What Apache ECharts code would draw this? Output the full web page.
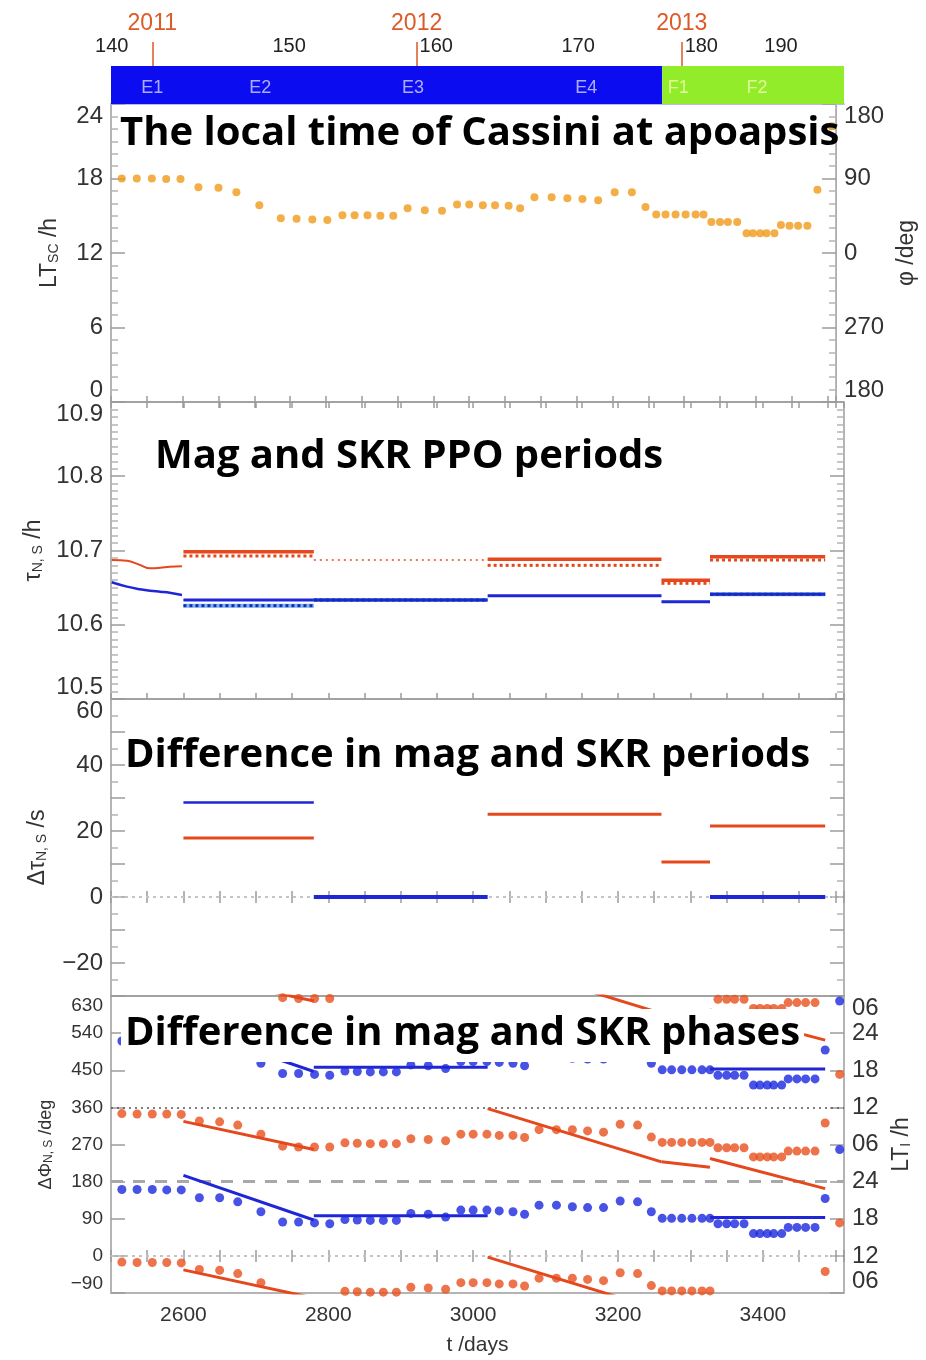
<!DOCTYPE html>
<html>
<head>
<meta charset="utf-8">
<script src="https://cdn.jsdelivr.net/npm/echarts@6/dist/echarts.min.js"></script>
<style>
html, body { margin: 0; padding: 0; background: #fff; }
#chart { width: 926px; height: 1360px; }
</style>
</head>
<body>
<div id="chart"></div>
<script>
// ---- time axis: days since 2004-01-01 ----
const dayRange = [2500, 3512];
const dayTicks = [2600, 2800, 3000, 3200, 3400];

// orbit numbers along the top (start day of each labelled orbit)
const orbitNums = [140, 150, 160, 170, 180, 190];
const orbitDays = [2501, 2746, 2949, 3145, 3315, 3425];

// calendar years
const yearLabels = ['2011', '2012', '2013'];
const yearDays = [2557, 2922, 3288];

// mission phases (bar) and sub-phase labels
const phaseSpans = [[2500, 3261], [3261, 3512]];
const phaseColors = ['#0c0cf0', '#92ec2a'];
const subPhaseNames = ['E1', 'E2', 'E3', 'E4', 'F1', 'F2'];
const subPhaseDays = [2557, 2706, 2917, 3156, 3283, 3392];

// apoapsis passes: day, spacecraft local time (h), phase differences (deg)
const apoDays = [2515, 2536, 2557, 2577, 2597, 2622, 2650, 2675, 2707, 2737,
  2759, 2781, 2802, 2823, 2840, 2858, 2876, 2894, 2914, 2938,
  2962, 2983, 3000, 3019, 3036, 3055, 3071, 3091, 3115, 3137,
  3158, 3180, 3203, 3227, 3246, 3261, 3274, 3288, 3302, 3316,
  3327, 3338, 3350, 3361, 3374, 3387, 3396, 3406, 3415, 3426,
  3435, 3447, 3459, 3472, 3486, 3506];
const apoLT = [18.0, 18.0, 18.0, 17.95, 17.95, 17.3, 17.25, 16.9, 15.85, 14.8,
  14.75, 14.7, 14.65, 15.05, 15.05, 15.05, 15.0, 15.0, 15.6, 15.45,
  15.4, 15.9, 15.9, 15.85, 15.85, 15.8, 15.6, 16.5, 16.5, 16.4,
  16.35, 16.25, 16.9, 16.9, 15.7, 15.1, 15.1, 15.1, 15.1, 15.1,
  15.1, 14.5, 14.5, 14.5, 14.5, 13.6, 13.6, 13.6, 13.6, 13.6,
  14.25, 14.2, 14.2, 14.2, 17.1, 22.2];
const dPhiS = [345, 344, 344, 344, 343, 327, 325, 317, 295, 266,
  264, 264, 264, 274, 273, 272, 272, 272, 284, 282,
  279, 295, 295, 295, 292, 292, 287, 306, 306, 306,
  303, 300, 319, 317, 288, 275, 275, 275, 275, 275,
  275, 262, 262, 262, 262, 240, 240, 240, 240, 240,
  254, 254, 254, 254, 322, 80];
const dPhiN = [161, 161, 161, 160, 160, 141, 141, 131, 107, 82,
  82, 80, 78, 88, 87, 86, 86, 86, 103, 101,
  94, 111, 111, 111, 109, 107, 101, 123, 123, 119,
  117, 117, 133, 131, 107, 91, 91, 91, 91, 91,
  91, 78, 78, 78, 78, 54, 54, 54, 54, 54,
  69, 69, 69, 69, 139, 258];

// constant-period intervals
const segEdges = [2600, 2780, 3020, 3260, 3327, 3486];
const tauMagS = [10.6984, null, 10.6881, 10.6599, 10.6917];
const tauSkrS = [10.6926, 10.6872, 10.6800, 10.6558, 10.6872];
const tauMagN = [10.6333, 10.6333, 10.6391, 10.6310, 10.6410];
const tauSkrN = [10.6257, 10.6333, null, null, 10.6410];

// smoothed periods before the first interval
const earlyDays = [2501, 2522, 2540, 2554, 2568, 2581, 2598];
const earlyTauS = [10.6872, 10.6863, 10.6805, 10.6760, 10.6768, 10.6782, 10.6787];
const earlyTauN = [10.6572, 10.6513, 10.6478, 10.6458, 10.6445, 10.6432, 10.6401];

// period differences (s)
const dTauS = [17.9, null, 25.1, 10.6, 21.5];
const dTauN = [28.6, 0, null, null, 0];

// phase-drift fits (start, end) per interval (deg)
const fitS = [[326, 258], null, [357, 228], [228, 215], [236, 163]];
const fitN = [[195, 87], [97, 97], null, null, [93, 93]];

// ---- styling ----
const C = {
  lt: '#f09a1a',
  red: '#e4481c',
  blue: '#1e26d6',
  year: '#dc5a28',
  axis: '#9c9c9c',
  text: '#333333'
};
const numFont = 'Liberation Sans';
const titleFont = 'Open Sans';

const grids = [
  { left: 111, right: 82, top: 66, height: 38 },
  { left: 111, right: 82, top: 104, height: 298, show: true, borderColor: C.axis, borderWidth: 1.5 },
  { left: 111, right: 82, top: 402, height: 297, show: true, borderColor: C.axis, borderWidth: 1.5 },
  { left: 111, right: 82, top: 699, height: 297, show: true, borderColor: C.axis, borderWidth: 1.5 },
  { left: 111, right: 82, top: 996, height: 297, show: true, borderColor: C.axis, borderWidth: 1.5 }
];

function xAx(grid, pos, extra) {
  return Object.assign({
    type: 'value', gridIndex: grid, position: pos,
    min: dayRange[0], max: dayRange[1], interval: 50,
    axisLine: { show: false }, splitLine: { show: false },
    axisTick: { inside: true, length: 6, lineStyle: { color: C.axis, width: 1.5 } },
    axisLabel: { show: false }
  }, extra || {});
}

function yAx(grid, pos, min, max, interval, minorSplit, extra) {
  return Object.assign({
    type: 'value', gridIndex: grid, position: pos,
    min: min, max: max, interval: interval,
    axisLine: { show: false }, splitLine: { show: false },
    axisTick: { inside: true, length: 14, lineStyle: { color: C.axis, width: 1.5 } },
    minorTick: { show: minorSplit > 0, splitNumber: minorSplit || 5, length: 7, lineStyle: { color: '#b4b4b4', width: 1.5 } },
    axisLabel: { show: false }
  }, extra || {});
}

function yLabel(fmt, size) {
  return {
    show: true, fontFamily: numFont, fontSize: size || 24, color: C.text, margin: 8,
    formatter: fmt, verticalAlignMinLabel: 'bottom', verticalAlignMaxLabel: 'top'
  };
}

const nameRich = {
  m: { fontFamily: numFont, fontSize: 23, color: C.text },
  s: { fontFamily: numFont, fontSize: 14, color: C.text, verticalAlign: 'bottom', padding: [8, 0, 0, 0] },
  ms: { fontFamily: numFont, fontSize: 18, color: C.text },
  ss: { fontFamily: numFont, fontSize: 12, color: C.text, verticalAlign: 'bottom', padding: [6, 0, 0, 0] }
};
function yName(text, gap) {
  return { name: text, nameLocation: 'middle', nameRotate: 90, nameGap: gap, nameTextStyle: { rich: nameRich } };
}

const xAxes = [
  // orbit numbers
  xAx(0, 'top', {
    interval: null,
    axisLine: { show: true, lineStyle: { color: '#b8b8ff', width: 2 } },
    axisTick: { show: true, inside: false, length: 5, customValues: orbitDays, lineStyle: { color: '#555', width: 1 } },
    axisLabel: {
      show: true, customValues: orbitDays, margin: 10, fontFamily: numFont, fontSize: 20, color: '#222',
      formatter: v => String(orbitNums[orbitDays.indexOf(v)])
    }
  }),
  // calendar years
  xAx(0, 'top', {
    interval: null,
    axisTick: { show: true, inside: false, length: 24, customValues: yearDays, lineStyle: { color: C.year, width: 1.5 } },
    axisLabel: {
      show: true, customValues: yearDays, margin: 31, fontFamily: numFont, fontSize: 23, color: C.year,
      formatter: v => yearLabels[yearDays.indexOf(v)]
    }
  }),
  xAx(1, 'bottom'), xAx(2, 'bottom'), xAx(3, 'bottom'),
  xAx(4, 'bottom', {
    axisLabel: {
      show: true, customValues: dayTicks, margin: 12, fontFamily: numFont, fontSize: 21, color: C.text,
      formatter: v => String(v)
    },
    name: 't /days', nameLocation: 'middle', nameGap: 42,
    nameTextStyle: { fontFamily: numFont, fontSize: 21, color: C.text }
  }),
  xAx(1, 'top'), xAx(2, 'top'), xAx(3, 'top'), xAx(4, 'top')
];
// x-axis indices: 0,1 bar; 2..5 panel bottoms; 6..9 panel tops
const XB = [null, 2, 3, 4, 5];

const ltFmt = v => String(v);
const phiFmt = v => String((((v - 12) * 15) % 360 + 360) % 360);
const ltWrapFmt = v => {
  let h = ((v / 15 + 12) % 24 + 24) % 24;
  if (h === 0) h = 24;
  return (h < 10 ? '0' : '') + h;
};

const yAxes = [
  { type: 'value', gridIndex: 0, min: 0, max: 1, show: false },
  // panel 1
  yAx(1, 'left', 0, 24, 6, 6, Object.assign({ axisLabel: yLabel(ltFmt) }, yName('{m|LT}{s|SC}{m| /h}', 50))),
  yAx(1, 'right', 0, 24, 6, 6, Object.assign({ axisLabel: yLabel(phiFmt) }, yName('{m|φ /deg}', 56))),
  // panel 2
  yAx(2, 'left', 10.5, 10.9, 0.1, 10, Object.assign({ axisLabel: yLabel(v => v.toFixed(1)) }, yName('{m|τ}{s|N, S}{m| /h}', 66))),
  yAx(2, 'right', 10.5, 10.9, 0.1, 10),
  // panel 3
  yAx(3, 'left', -30, 60, 10, 2, Object.assign({ axisLabel: yLabel(v => (v % 20 === 0 ? String(v).replace('-', '−') : '')) }, yName('{m|Δτ}{s|N, S}{m| /s}', 62))),
  yAx(3, 'right', -30, 60, 10, 2),
  // panel 4
  yAx(4, 'left', -90, 630, 90, 0, Object.assign({ axisLabel: yLabel(v => String(v).replace('-', '−'), 19) }, yName('{ms|ΔΦ}{ss|N, S}{ms| /deg}', 56))),
  yAx(4, 'right', -90, 630, 90, 0, Object.assign({ axisLabel: yLabel(ltWrapFmt) }, yName('{m|LT}{s|I}{m| /h}', 46)))
];
// y-axis indices per panel
const YL = [0, 1, 3, 5, 7];

const series = [];

// mission-phase bar
series.push({
  type: 'line', xAxisIndex: 0, yAxisIndex: 0, data: [], silent: true,
  markArea: {
    silent: true,
    data: phaseSpans.map((s, i) => [{ xAxis: s[0], itemStyle: { color: phaseColors[i] } }, { xAxis: s[1] }])
  }
});
series.push({
  type: 'scatter', xAxisIndex: 0, yAxisIndex: 0, symbolSize: 0, silent: true, z: 5,
  data: subPhaseDays.map((d, i) => ({
    value: [d, 0.42],
    label: { color: subPhaseNames[i][0] === 'E' ? '#d4d4ff' : '#f4ffb4' }
  })),
  label: {
    show: true, position: 'inside', fontFamily: numFont, fontSize: 18,
    formatter: p => subPhaseNames[p.dataIndex]
  }
});

// panel 1: local time at apoapsis
series.push({
  type: 'scatter', xAxisIndex: XB[1], yAxisIndex: YL[1], symbolSize: 8,
  itemStyle: { color: C.lt }, data: apoDays.map((d, i) => [d, apoLT[i]])
});

function seg(panel, x0, x1, y0, y1, lineStyle, z) {
  series.push({
    type: 'line', xAxisIndex: XB[panel], yAxisIndex: YL[panel],
    data: [[x0, y0], [x1, y1]], symbol: 'none', silent: true, z: z || 5,
    lineStyle: lineStyle
  });
}

// panel 2: periods
series.push({
  type: 'line', xAxisIndex: XB[2], yAxisIndex: YL[2], smooth: 0.4, symbol: 'none',
  lineStyle: { color: C.red, width: 2 }, data: earlyDays.map((d, i) => [d, earlyTauS[i]])
});
series.push({
  type: 'line', xAxisIndex: XB[2], yAxisIndex: YL[2], smooth: 0.4, symbol: 'none',
  lineStyle: { color: C.blue, width: 2.5 }, data: earlyDays.map((d, i) => [d, earlyTauN[i]])
});
for (let i = 0; i < 5; i++) {
  const a = segEdges[i], b = segEdges[i + 1];
  if (tauMagS[i] !== null) seg(2, a, b, tauMagS[i], tauMagS[i], { color: C.red, width: 3.5 });
  if (tauSkrS[i] !== null) seg(2, a, b, tauSkrS[i], tauSkrS[i],
    tauMagS[i] === null ? { color: C.red, width: 1.5, type: [2, 4] } : { color: C.red, width: 3, type: [3, 3] }, 6);
  if (tauMagN[i] !== null) seg(2, a, b, tauMagN[i], tauMagN[i], { color: C.blue, width: 3 });
  if (tauSkrN[i] !== null) {
    // light halo under the dotted SKR period
    seg(2, a, b, tauSkrN[i], tauSkrN[i], { color: '#7fb2ee', width: 4 }, 4);
    seg(2, a, b, tauSkrN[i], tauSkrN[i], { color: '#1030b8', width: 3, type: [3, 3] }, 6);
  }
}

// panel 3: period differences
series.push({
  type: 'line', xAxisIndex: XB[3], yAxisIndex: YL[3], data: [], silent: true, z: 1,
  markLine: {
    silent: true, symbol: 'none', label: { show: false }, z: 1,
    lineStyle: { color: '#c4c4c4', width: 2, type: [3, 4] },
    data: [{ yAxis: 0 }]
  }
});
for (let i = 0; i < 5; i++) {
  const a = segEdges[i], b = segEdges[i + 1];
  if (dTauS[i] !== null) seg(3, a, b, dTauS[i], dTauS[i], { color: C.red, width: 3 });
  if (dTauN[i] !== null) seg(3, a, b, dTauN[i], dTauN[i], { color: C.blue, width: dTauN[i] === 0 ? 4 : 2.5 });
}

// panel 4: phase differences, repeated every 360 deg
const shifts = [-360, 0, 360];
series.push({
  type: 'line', xAxisIndex: XB[4], yAxisIndex: YL[4], data: [], silent: true, z: 1,
  markLine: {
    silent: true, symbol: 'none', label: { show: false }, z: 1,
    data: [
      { yAxis: 360, lineStyle: { color: '#555', width: 1.5, type: [2, 4] } },
      { yAxis: 180, lineStyle: { color: '#a8a8a8', width: 3, type: [12, 10] } },
      { yAxis: 0, lineStyle: { color: '#c4c4c4', width: 2, type: [3, 4] } }
    ]
  }
});
series.push({
  type: 'scatter', xAxisIndex: XB[4], yAxisIndex: YL[4], symbolSize: 9, clip: true, z: 3,
  itemStyle: { color: '#e8501e' },
  data: shifts.flatMap(s => apoDays.map((d, i) => [d, dPhiS[i] + s]))
});
series.push({
  type: 'scatter', xAxisIndex: XB[4], yAxisIndex: YL[4], symbolSize: 9, clip: true, z: 3,
  itemStyle: { color: '#1a28e0' },
  data: shifts.flatMap(s => apoDays.map((d, i) => [d, dPhiN[i] + s]))
});
for (let i = 0; i < 5; i++) {
  const a = segEdges[i], b = segEdges[i + 1];
  shifts.forEach(s => {
    if (fitS[i]) seg(4, a, b, fitS[i][0] + s, fitS[i][1] + s, { color: C.red, width: 3 });
    if (fitN[i]) seg(4, a, b, fitN[i][0] + s, fitN[i][1] + s, { color: C.blue, width: 3 });
  });
}

const titleStyle = { fontFamily: titleFont, fontWeight: 'bold', fontSize: 40, color: '#000' };
const option = {
  animation: false,
  backgroundColor: '#fff',
  title: [
    { text: 'The local time of Cassini at apoapsis', left: 120, top: 114, padding: 0, textStyle: titleStyle },
    { text: 'Mag and SKR PPO periods', left: 155, top: 437, padding: 0, textStyle: titleStyle },
    { text: 'Difference in mag and SKR periods', left: 125, top: 736, padding: 0, textStyle: titleStyle },
    { text: 'Difference in mag and SKR phases', left: 121, top: 1009, padding: [5, 4, 8, 4], backgroundColor: '#fff', textStyle: titleStyle }
  ],
  grid: grids,
  xAxis: xAxes,
  yAxis: yAxes,
  series: series
};

const chart = echarts.init(document.getElementById('chart'), null, { renderer: 'canvas' });
chart.setOption(option);
</script>
</body>
</html>
